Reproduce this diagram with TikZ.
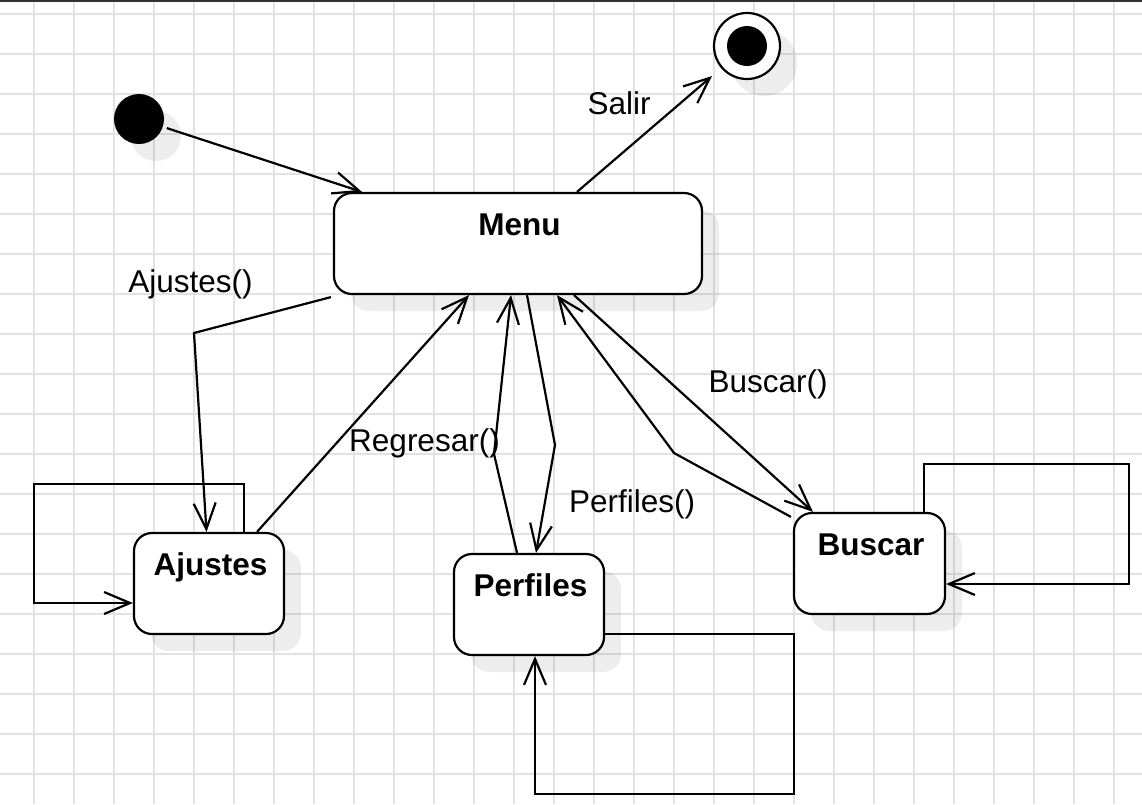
\documentclass[tikz,border=0pt]{standalone}
\usepackage{fontspec}
\setmainfont{Liberation Sans}
\usetikzlibrary{arrows.meta,calc,shadows}
\definecolor{gridc}{RGB}{226,226,226}
\begin{document}
\begin{tikzpicture}[x=1pt,y=-1pt,
  gridline/.style={draw=gridc, line width=2pt},
  shad/.style={drop shadow={shadow xshift=17pt, shadow yshift=-17pt, fill=black, opacity=0.07}},
  statebox/.style={draw=black, line width=2.2pt, rounded corners=18pt, fill=white,
    minimum width=150pt, minimum height=101pt, inner sep=0pt, shad},
  titletext/.style={font=\fontsize{31.5}{36}\selectfont\bfseries, anchor=base, inner sep=0pt},
  lbl/.style={font=\fontsize{31.5}{36}\selectfont, anchor=base, inner sep=0pt},
  conn/.style={draw=black, line width=2.2pt, line join=miter,
    -{Straight Barb[length=26pt,width=22pt]}},
  loopline/.style={conn}
]
\useasboundingbox (0,0) rectangle (1142,804);
\fill[white] (0,0) rectangle (1142,804);
% grid
\foreach \x in {34,74,...,1114} \draw[gridline] (\x,0) -- (\x,804);
\foreach \y in {14,54,...,774} \draw[gridline] (0,\y) -- (1142,\y);
\draw[line width=1.5pt, black!80] (0,0.75) -- (1142,0.75);

% start / end
\node[circle, fill=black, minimum size=50pt, inner sep=0pt, shad] (init) at (139,119) {};
\node[circle, draw=black, line width=2.2pt, fill=white, minimum size=66pt, inner sep=0pt, shad] (final) at (747,46) {};
\node[circle, fill=black, minimum size=40pt, inner sep=0pt] (finalin) at (final) {};

% states
\node[statebox, minimum width=368pt] (menu) at (518,243.5) {};
\node[statebox] (ajustes) at (209,583.5) {};
\node[statebox] (perfiles) at (529,604.5) {};
\node[statebox, minimum width=151pt] (buscar) at (869.5,563.5) {};

\node[titletext] (tmenu) at ([xshift=1.5pt,yshift=-43.5pt]menu.north) {Menu};
\node[titletext] (tajustes) at ([xshift=1.5pt,yshift=-43.5pt]ajustes.north) {Ajustes};
\node[titletext] (tperfiles) at ([xshift=1.5pt,yshift=-43.5pt]perfiles.north) {Perfiles};
\node[titletext] (tbuscar) at ([xshift=1.5pt,yshift=-43.5pt]buscar.north) {Buscar};

% connectors
\draw[conn, shorten <=4pt] (init) -- ([xshift=-156pt]menu.north);
\draw[conn, shorten >=12pt] ([xshift=59pt]menu.north) -- (final);
\draw[conn] ([xshift=-2pt,yshift=-2pt]menu.south west) -- (194,333) -- ([xshift=-2.5pt]ajustes.north);
\draw[conn] ([xshift=48pt]ajustes.north) -- ([xshift=-49pt]menu.south);
\draw[loopline] ([xshift=35pt]ajustes.north) -- (244,484) -- (34,484) -- (34,603) -- ([yshift=-19.5pt]ajustes.west);
\draw[conn] ([xshift=-12pt]perfiles.north) -- (494,454) -- ([xshift=-7pt]menu.south);
\draw[conn] ([xshift=9pt]menu.south) -- (555,445) -- ([xshift=7pt]perfiles.north);
\draw[loopline] ([yshift=-29.5pt]perfiles.east) -- (794,634) -- (794,794) -- (535,794) -- ([xshift=6pt]perfiles.south);
\draw[conn] ([xshift=56pt]menu.south) -- ([xshift=-56.5pt]buscar.north);
\draw[conn] ([xshift=-2pt,yshift=-5pt]buscar.north west) -- (674,453) -- ([xshift=39pt]menu.south);
\draw[loopline] ([xshift=54.5pt]buscar.north) -- (924,464) -- (1129,464) -- (1129,584) -- ([yshift=-20.5pt]buscar.east);

% labels
\node[lbl] (lsalir) at (619,114) {Salir};
\node[lbl] (lajustes) at (190.5,292) {Ajustes()};
\node[lbl] (lregresar) at (424.5,451) {Regresar()};
\node[lbl] (lperfiles) at (632,512) {Perfiles()};
\node[lbl] (lbuscar) at (768,392) {Buscar()};
\end{tikzpicture}
\end{document}
